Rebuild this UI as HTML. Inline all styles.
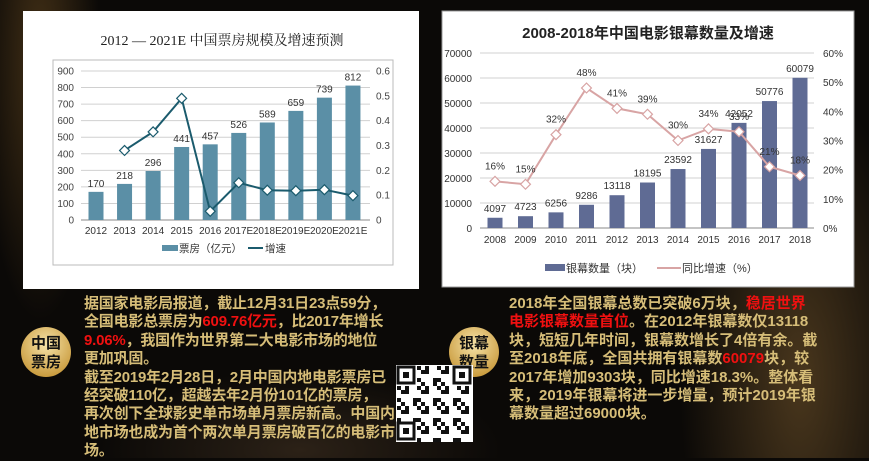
<!DOCTYPE html>
<html><head><meta charset="utf-8"><style>
body{margin:0;width:869px;height:458px;overflow:hidden;background:#0b0907;font-family:"Liberation Sans","Noto Sans CJK SC",sans-serif;position:relative}
.bg{position:absolute;inset:0;background:radial-gradient(ellipse 60px 260px at 40px 60px,rgba(170,120,50,.35),transparent),radial-gradient(ellipse 120px 300px at 800px 380px,rgba(190,140,70,.35),transparent),radial-gradient(ellipse 200px 80px at 300px 450px,rgba(120,90,60,.3),transparent)}
.txt{position:absolute;font-family:"Liberation Sans","Noto Sans CJK SC",sans-serif;font-weight:bold;font-size:15px;line-height:18.4px;color:#d6bd78;white-space:nowrap}
.red{color:#f01010}
.circ{position:absolute;width:50px;height:50px;border-radius:50%;background:radial-gradient(circle at 50% 35%,#f5e2a8,#c99a3c 80%);color:#111;font-weight:bold;font-size:15px;line-height:19px;text-align:center;display:flex;align-items:center;justify-content:center;font-family:"Noto Sans CJK SC",sans-serif}
</style></head><body>
<div class="bg"></div>
<svg width="869" height="458" style="position:absolute;left:0;top:0">
<rect x="23" y="11" width="396" height="278" fill="#fff"/>
<rect x="53" y="60" width="340" height="205" fill="none" stroke="#bbb"/>
<text x="222" y="45" text-anchor="middle" font-size="14" font-family="Liberation Serif,Noto Serif CJK SC,serif" fill="#222">2012 — 2021E 中国票房规模及增速预测</text>
<g id="L"></g>
<rect x="442" y="11" width="412" height="276" fill="#fff" stroke="#999"/>
<text x="648" y="38" text-anchor="middle" font-size="15" font-weight="bold" font-family="Liberation Sans,Noto Sans CJK SC,sans-serif" fill="#222">2008-2018年中国电影银幕数量及增速</text>
<g id="R"></g>
</svg>
<div class="circ" style="left:21px;top:327px">中国<br>票房</div>
<div class="circ" style="left:449px;top:327px">银幕<br>数量</div>
<svg width="77" height="77" style="position:absolute;left:396px;top:365px;background:#fff" id="qr"></svg>
<div class="txt" style="left:84px;top:295px;letter-spacing:-0.2px">据国家电影局报道，截止12月31日23点59分，<br>全国电影总票房为<span class="red">609.76亿元</span>，比2017年增长<br><span class="red">9.06%</span>，我国作为世界第二大电影市场的地位<br>更加巩固。<br>截至2019年2月28日，2月中国内地电影票房已<br>经突破110亿，超越去年2月份101亿的票房，<br>再次创下全球影史单市场单月票房新高。中国内<br>地市场也成为首个两次单月票房破百亿的电影市<br>场。</div>
<div class="txt" style="left:509px;top:295px">2018年全国银幕总数已突破6万块，<span class="red">稳居世界<br>电影银幕数量首位</span>。在2012年银幕数仅13118<br>块，短短几年时间，银幕数增长了4倍有余。截<br>至2018年底，全国共拥有银幕数<span class="red">60079</span>块，较<br>2017年增加9303块，同比增速18.3%。整体看<br>来，2019年银幕将进一步增量，预计2019年银<br>幕数量超过69000块。</div>
<script>
const lCats=["2012","2013","2014","2015","2016","2017E","2018E","2019E","2020E","2021E"];
const lBox=[170,218,296,441,457,526,589,659,739,812];
const lGrowth=[null,0.28,0.355,0.49,0.035,0.15,0.12,0.118,0.122,0.098];
const lLeftTicks=[0,100,200,300,400,500,600,700,800,900];
const lRightTicks=[0,0.1,0.2,0.3,0.4,0.5,0.6];
const rCats=["2008","2009","2010","2011","2012","2013","2014","2015","2016","2017","2018"];
const rScreens=[4097,4723,6256,9286,13118,18195,23592,31627,42052,50776,60079];
const rGrowth=[16,15,32,48,41,39,30,34,33,21,18];
const rLeftTicks=[0,10000,20000,30000,40000,50000,60000,70000];
const rRightTicks=[0,10,20,30,40,50,60];
const NS="http://www.w3.org/2000/svg";
function mk(p,t,a,txt){const e=document.createElementNS(NS,t);for(const k in a)e.setAttribute(k,a[k]);if(txt!=null)e.textContent=txt;p.appendChild(e);return e;}
// left chart
const L=document.getElementById('L');
const lx=i=>96+i*28.55, ly=v=>220-v*149/900, lyr=v=>220-v*149/0.6;
lLeftTicks.forEach(t=>{const g=mk(L,'line',{x1:81,x2:370,y1:ly(t),y2:ly(t),stroke:t?'#d0d0d0':'#888'});
const s=mk(L,'text',{x:74,y:ly(t)+3.5,'text-anchor':'end','font-size':10,fill:'#444'},t);});
lRightTicks.forEach(t=>{const s=mk(L,'text',{x:376,y:lyr(t)+3.5,'font-size':10,fill:'#444'},t);});
lCats.forEach((c,i)=>{const b=mk(L,'rect',{x:lx(i)-7.5,y:ly(lBox[i]),width:15,height:220-ly(lBox[i]),fill:'#5b8fa6'});
const v=mk(L,'text',{x:lx(i),y:ly(lBox[i])-5,'text-anchor':'middle','font-size':10,fill:'#333'},lBox[i]);
const s=mk(L,'text',{x:lx(i),y:234,'text-anchor':'middle','font-size':10,fill:'#333'},c);});
let pts=lGrowth.map((g,i)=>g==null?null:lx(i)+','+lyr(g)).filter(p=>p);
const pl=mk(L,'polyline',{points:pts.join(' '),fill:'none',stroke:'#1b5b6d','stroke-width':2});
lGrowth.forEach((g,i)=>{if(g==null)return;const m=mk(L,'rect',{x:lx(i)-3.5,y:lyr(g)-3.5,width:7,height:7,fill:'#fff',stroke:'#1b5b6d','stroke-width':1.2,transform:`rotate(45 ${lx(i)} ${lyr(g)})`});});
let e=mk(L,'rect',{x:162,y:245,width:16,height:6,fill:'#5b8fa6'});
e=mk(L,'text',{x:179,y:252,'font-size':10.5,fill:'#333'},'票房（亿元）');
e=mk(L,'line',{x1:248,x2:263,y1:248,y2:248,stroke:'#1b5b6d','stroke-width':2});
e=mk(L,'text',{x:265,y:252,'font-size':10.5,fill:'#333'},'增速');
// right chart
const R=document.getElementById('R');
const rx=i=>495+i*30.5, ry=v=>228-v*175/70000, ryr=p=>228-p*175/60;
rLeftTicks.forEach(t=>{const g=mk(R,'line',{x1:480,x2:814,y1:ry(t),y2:ry(t),stroke:t?'#d0d0d0':'#888'});
const s=mk(R,'text',{x:472,y:ry(t)+4,'text-anchor':'end','font-size':10,fill:'#333'},t);});
rRightTicks.forEach(t=>{const s=mk(R,'text',{x:823,y:ryr(t)+4,'font-size':10,fill:'#333'},t+'%');});
rCats.forEach((c,i)=>{const b=mk(R,'rect',{x:rx(i)-7.5,y:ry(rScreens[i]),width:15,height:228-ry(rScreens[i]),fill:'#5f6b94'});
const v=mk(R,'text',{x:rx(i),y:ry(rScreens[i])-6,'text-anchor':'middle','font-size':10,fill:'#333'},rScreens[i]);
const s=mk(R,'text',{x:rx(i),y:243,'text-anchor':'middle','font-size':10,fill:'#333'},c);});
const pl2=mk(R,'polyline',{points:rGrowth.map((p,i)=>rx(i)+','+ryr(p)).join(' '),fill:'none',stroke:'#d8a4a4','stroke-width':2});
rGrowth.forEach((p,i)=>{const m=mk(R,'rect',{x:rx(i)-3.5,y:ryr(p)-3.5,width:7,height:7,fill:'#fff',stroke:'#d8a4a4','stroke-width':1.2,transform:`rotate(45 ${rx(i)} ${ryr(p)})`});
const v=mk(R,'text',{x:rx(i),y:ryr(p)-12,'text-anchor':'middle','font-size':10,fill:'#333'},p+'%');});
e=mk(R,'rect',{x:545,y:264,width:20,height:7,fill:'#5f6b94'});
e=mk(R,'text',{x:566,y:272,'font-size':11,fill:'#333'},'银幕数量（块）');
e=mk(R,'line',{x1:657,x2:681,y1:268,y2:268,stroke:'#d8a4a4','stroke-width':2});
e=mk(R,'text',{x:682,y:272,'font-size':11,fill:'#333'},'同比增速（%）');
// qr pattern (decorative)
const q=document.getElementById('qr');
for(let r=0;r<19;r++)for(let c=0;c<19;c++){const f=((r*7+c*13+r*c)%5)<2;const finder=(r<5&&c<5)||(r<5&&c>13)||(r>13&&c<5);if(f&&!finder)mk(q,'rect',{x:1+c*4,y:1+r*4,width:4,height:4,fill:'#111'});}
[[1,1],[57,1],[1,57]].forEach(([x,y])=>{mk(q,'rect',{x:x+1,y:y+1,width:16,height:16,fill:'none',stroke:'#111','stroke-width':3});mk(q,'rect',{x:x+6,y:y+6,width:6,height:6,fill:'#111'});});
</script>
</body></html>
